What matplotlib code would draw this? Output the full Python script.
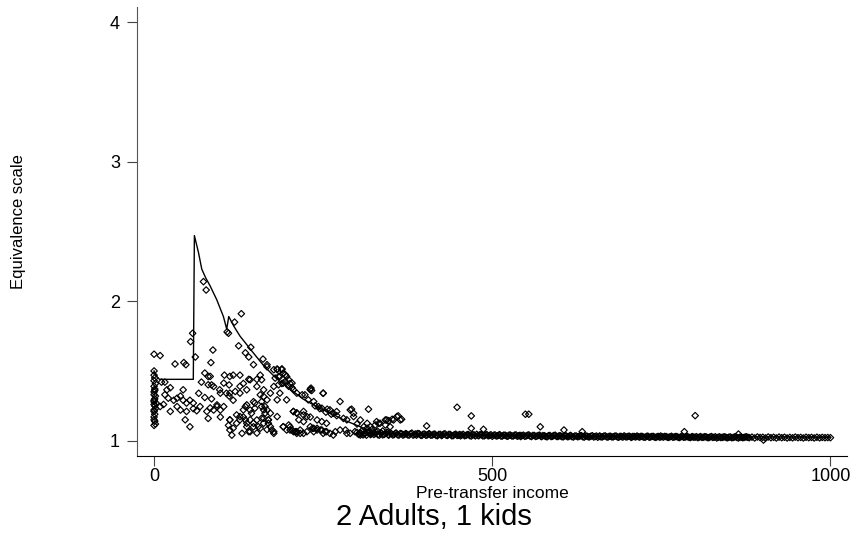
import numpy as np
import matplotlib
matplotlib.use('Agg')
import matplotlib.pyplot as plt

plt.rcParams['font.family'] = ['Liberation Sans', 'DejaVu Sans']

# households with near-zero pre-transfer income
zero_x = [0, 0, 1, 0, 2, 0, 1, 0, 0, 2, 1, 0, 0, 1, 2, 0, 1, 0, 0, 1, 2, 0, 1, 0, 3, 0]
zero_y = [1.50, 1.47, 1.45, 1.43, 1.41, 1.39, 1.37, 1.35, 1.33, 1.32, 1.30, 1.28, 1.26,
          1.25, 1.23, 1.21, 1.19, 1.17, 1.15, 1.14, 1.12, 1.11, 1.36, 1.29, 1.27, 1.22]

# low incomes (0 - 170)
low_x = [54, 57, 61, 0, 9, 87, 31, 44, 47, 84, 75, 80, 70, 104, 117, 127, 140, 111, 85, 97,
         43, 66, 75, 85, 107, 111, 117, 127, 132, 152, 157, 147, 11, 16, 19, 24, 16, 21, 29, 34,
         39, 43, 48, 53, 58, 9, 14, 24, 34, 39, 48, 58, 63, 68, 78, 83, 88, 93, 98, 103,
         46, 53, 80, 98, 112, 110, 117, 115, 122, 127, 132, 137, 142, 140, 147, 152, 157, 162, 167, 169,
         164, 159, 149, 142, 135]
low_y = [1.71, 1.77, 1.60, 1.62, 1.61, 1.65, 1.55, 1.56, 1.545, 1.56, 1.485, 1.46, 1.42, 1.47, 1.47, 1.47, 1.44, 1.40, 1.40, 1.365,
         1.365, 1.34, 1.31, 1.30, 1.34, 1.32, 1.29, 1.39, 1.41, 1.44, 1.47, 1.28, 1.42, 1.42, 1.365, 1.38, 1.33, 1.305, 1.29, 1.305,
         1.32, 1.29, 1.27, 1.29, 1.27, 1.245, 1.26, 1.21, 1.245, 1.22, 1.21, 1.23, 1.215, 1.245, 1.21, 1.235, 1.22, 1.245, 1.22, 1.245,
         1.15, 1.10, 1.16, 1.17, 1.15, 1.11, 1.09, 1.04, 1.185, 1.15, 1.17, 1.125, 1.15, 1.065, 1.10, 1.055, 1.09, 1.125, 1.08, 1.15,
         1.245, 1.28, 1.27, 1.22, 1.245]

# points near the peak of the curve
peak_x = [73, 77, 129, 119, 108, 110, 125, 143, 135, 140, 147, 161, 167, 182, 189, 191, 184, 196, 201, 199,
          204, 194, 189, 231, 250]
peak_y = [2.14, 2.08, 1.91, 1.85, 1.78, 1.77, 1.68, 1.67, 1.63, 1.60, 1.545, 1.585, 1.53, 1.51, 1.515, 1.485, 1.46, 1.46, 1.41, 1.39,
          1.38, 1.425, 1.41, 1.365, 1.34]

# middle incomes (100 - 260)
mid_x = [206, 211, 214, 221, 216, 226, 234, 241, 248, 255, 221, 231, 241, 248, 255, 201, 191, 196, 206, 211,
         112, 122, 127, 132, 135, 137, 142, 147, 152, 154, 159, 164, 169, 172, 177, 182, 112, 130, 144, 137,
         149, 162, 182, 172, 162, 152, 142, 112, 103, 88, 83, 80, 93, 98, 112, 120, 127, 137, 157, 167,
         177, 186, 196]
mid_y = [1.21, 1.20, 1.15, 1.137, 1.077, 1.065, 1.089, 1.089, 1.077, 1.065, 1.21, 1.17, 1.149, 1.137, 1.125, 1.10, 1.10, 1.077, 1.065, 1.053,
         1.149, 1.125, 1.173, 1.221, 1.149, 1.101, 1.065, 1.125, 1.149, 1.101, 1.161, 1.197, 1.149, 1.101, 1.065, 1.173, 1.077, 1.053, 1.197, 1.257,
         1.233, 1.221, 1.293, 1.341, 1.365, 1.389, 1.437, 1.461, 1.413, 1.389, 1.461, 1.401, 1.257, 1.341, 1.341, 1.353, 1.341, 1.365, 1.329, 1.293,
         1.389, 1.341, 1.293]

# upper tail (160 - 370)
tail_x = [167, 177, 182, 189, 179, 186, 194, 199, 204, 191, 184, 206, 211, 219, 223, 231, 233, 228, 236, 243,
          248, 256, 260, 265, 270, 275, 250, 290, 295, 305, 315, 317, 329, 344, 352, 359, 364,
          159, 162, 159, 167, 172, 162, 169, 174, 177, 191, 199, 204, 209, 216, 206, 211, 221, 226, 231, 236,
          241, 246, 253, 260, 268, 275, 283, 290, 297, 305, 312, 320, 327, 334, 342, 349]
tail_y = [1.545, 1.509, 1.514, 1.509, 1.449, 1.461, 1.473, 1.437, 1.413, 1.413, 1.401, 1.365, 1.341, 1.329, 1.329, 1.370, 1.360, 1.293, 1.281, 1.245,
          1.233, 1.226, 1.221, 1.197, 1.209, 1.281, 1.341, 1.221, 1.173, 1.149, 1.125, 1.226, 1.137, 1.149, 1.154, 1.173, 1.149,
          1.437, 1.317, 1.245, 1.221, 1.197, 1.161, 1.125, 1.077, 1.053, 1.101, 1.113, 1.077, 1.065, 1.053, 1.209, 1.197, 1.185, 1.173, 1.101, 1.089,
          1.077, 1.077, 1.065, 1.053, 1.065, 1.077, 1.077, 1.053, 1.065, 1.053, 1.053, 1.10, 1.113, 1.125, 1.113, 1.10]

# scattered outliers and points along the curve
other_x = [448, 469, 403, 469, 487, 549, 554, 571, 606, 361, 366, 354, 347, 342, 332, 232, 292, 295, 800, 633,
           784, 864, 901, 270, 280, 285, 300, 310, 315, 322, 330, 338, 345, 262, 254, 245, 238, 201, 211, 221,
           236, 250, 265, 285, 305, 320]
other_y = [1.24, 1.178, 1.106, 1.089, 1.082, 1.19, 1.19, 1.10, 1.077, 1.178, 1.154, 1.149, 1.144, 1.149, 1.125, 1.377, 1.226, 1.197, 1.18, 1.065,
           1.065, 1.048, 1.005, 1.18, 1.16, 1.15, 1.12, 1.10, 1.09, 1.08, 1.07, 1.07, 1.06, 1.19, 1.205, 1.23, 1.25, 1.077, 1.065, 1.053,
           1.065, 1.053, 1.041, 1.053, 1.041, 1.053]

# dense band at high incomes
band_x = [300, 303, 307, 311, 314, 318, 322, 325, 329, 333,
          336, 340, 344, 347, 351, 355, 358, 362, 366, 370,
          373, 377, 381, 385, 388, 392, 396, 400, 404, 407,
          411, 415, 419, 423, 426, 430, 434, 438, 442, 446,
          450, 453, 457, 461, 465, 469, 473, 477, 480, 484,
          488, 492, 496, 500, 504, 508, 511, 515, 519, 523,
          527, 531, 535, 539, 542, 546, 550, 554, 558, 562,
          566, 570, 573, 577, 581, 585, 589, 593, 597, 601,
          605, 609, 613, 616, 620, 624, 628, 632, 636, 640,
          644, 648, 652, 656, 659, 663, 667, 671, 675, 679,
          683, 687, 691, 695, 699, 703, 706, 710, 714, 718,
          722, 726, 730, 734, 738, 742, 746, 749, 753, 757,
          761, 765, 769, 773, 777, 781, 785, 789, 793, 796,
          800, 804, 808, 812, 816, 820, 824, 828, 832, 836,
          840, 844, 848, 852, 856, 860, 864, 868, 872, 876,
          880, 884, 888, 892, 896, 900, 904, 908, 912, 916,
          920, 924, 928, 932, 936, 940, 944, 948, 952, 956,
          960, 964, 968, 972, 976, 980, 984, 988, 992, 996, 1000]
band_y = [1.06, 1.045, 1.07, 1.05, 1.04, 1.065, 1.05, 1.045, 1.06, 1.04,
          1.055, 1.045, 1.06, 1.04, 1.05, 1.045, 1.055, 1.04, 1.05, 1.045,
          1.05, 1.04, 1.055, 1.045, 1.04, 1.05, 1.038, 1.048, 1.042, 1.05,
          1.04, 1.048, 1.036, 1.046, 1.04, 1.05, 1.038, 1.045, 1.036, 1.047,
          1.04, 1.035, 1.046, 1.038, 1.044, 1.034, 1.042, 1.046, 1.036, 1.043,
          1.035, 1.044, 1.038, 1.032, 1.042, 1.036, 1.044, 1.034, 1.04, 1.032,
          1.04, 1.034, 1.042, 1.036, 1.03, 1.04, 1.034, 1.042, 1.03, 1.038,
          1.033, 1.04, 1.03, 1.036, 1.028, 1.038, 1.032, 1.04, 1.03, 1.035,
          1.028, 1.036, 1.03, 1.038, 1.027, 1.034, 1.03, 1.036, 1.026, 1.033,
          1.028, 1.036, 1.03, 1.025, 1.034, 1.028, 1.035, 1.026, 1.032, 1.028,
          1.034, 1.025, 1.03, 1.035, 1.027, 1.032, 1.024, 1.03, 1.034, 1.026,
          1.03, 1.025, 1.033, 1.027, 1.031, 1.024, 1.03, 1.034, 1.026, 1.03,
          1.024, 1.032, 1.027, 1.03, 1.023, 1.031, 1.026, 1.029, 1.023, 1.03,
          1.026, 1.022, 1.03, 1.025, 1.028, 1.022, 1.03, 1.025, 1.02, 1.028,
          1.024, 1.028, 1.021, 1.027, 1.023, 1.029, 1.02, 1.026, 1.023, 1.028,
          1.022, 1.026, 1.02, 1.027, 1.023, 1.025, 1.02, 1.027, 1.022, 1.025,
          1.02, 1.026, 1.022, 1.025, 1.02, 1.024, 1.021, 1.026, 1.022, 1.024,
          1.02, 1.025, 1.022, 1.024, 1.02, 1.025, 1.021, 1.024, 1.022, 1.023, 1.022]

# second layer of the band (it is drawn solid black in the original)
band2_x = [302, 305, 309, 312, 316, 320, 324, 327, 331, 335,
           338, 342, 346, 349, 353, 357, 360, 364, 368, 372,
           375, 379, 383, 387, 390, 394, 398, 402, 406, 409,
           413, 417, 421, 425, 428, 432, 436, 440, 444, 448,
           452, 455, 459, 463, 467, 471, 475, 479, 482, 486,
           490, 494, 498, 502, 506, 510, 513, 517, 521, 525,
           529, 533, 537, 541, 544, 548, 552, 556, 560, 564,
           568, 572, 575, 579, 583, 587, 591, 595, 599, 603,
           607, 611, 615, 618, 622, 626, 630, 634, 638, 642,
           646, 650, 654, 658, 661, 665, 669, 673, 677, 681,
           685, 689, 693, 697, 701, 705, 708, 712, 716, 720,
           724, 728, 732, 736, 740, 744, 748, 751, 755, 759,
           763, 767, 771, 775, 779, 783, 787, 791, 795, 798,
           802, 806, 810, 814, 818, 822, 826, 830, 834, 838,
           842, 846, 850, 854, 858, 862, 866, 870, 874, 878]
band2_y = [1.048, 1.058, 1.042, 1.055, 1.062, 1.044, 1.058, 1.052, 1.043, 1.056,
           1.042, 1.052, 1.044, 1.056, 1.041, 1.053, 1.043, 1.052, 1.04, 1.051,
           1.042, 1.05, 1.04, 1.049, 1.052, 1.04, 1.047, 1.039, 1.049, 1.04,
           1.046, 1.038, 1.045, 1.037, 1.047, 1.039, 1.046, 1.036, 1.044, 1.038,
           1.045, 1.041, 1.036, 1.044, 1.036, 1.043, 1.035, 1.038, 1.044, 1.035,
           1.041, 1.035, 1.043, 1.039, 1.034, 1.041, 1.033, 1.04, 1.034, 1.041,
           1.034, 1.04, 1.032, 1.039, 1.037, 1.032, 1.039, 1.033, 1.038, 1.031,
           1.038, 1.031, 1.037, 1.031, 1.036, 1.03, 1.037, 1.031, 1.036, 1.029,
           1.035, 1.029, 1.036, 1.029, 1.034, 1.029, 1.035, 1.028, 1.034, 1.028,
           1.033, 1.027, 1.034, 1.031, 1.027, 1.033, 1.028, 1.032, 1.027, 1.033,
           1.027, 1.032, 1.026, 1.029, 1.032, 1.026, 1.031, 1.027, 1.029, 1.032,
           1.026, 1.031, 1.025, 1.031, 1.026, 1.03, 1.025, 1.029, 1.031, 1.025,
           1.029, 1.025, 1.03, 1.024, 1.029, 1.025, 1.03, 1.024, 1.028, 1.025,
           1.029, 1.026, 1.024, 1.029, 1.023, 1.027, 1.024, 1.028, 1.025, 1.023,
           1.027, 1.023, 1.026, 1.022, 1.027, 1.023, 1.025, 1.022, 1.027, 1.024]

# fitted scale (line)
line_x = [0, 4, 8, 58, 59.6, 65.6, 70.5, 76, 82.8, 92.7, 102.5, 107.4, 110.4, 118, 127, 145,
          161.7, 180, 201, 220, 240, 260, 280, 305, 324, 360, 450, 600, 800, 1000]
line_y = [1.50, 1.46, 1.44, 1.44, 2.47, 2.35, 2.23, 2.17, 2.11, 2.01, 1.89, 1.80, 1.89, 1.82, 1.75, 1.64,
          1.54, 1.45, 1.37, 1.30, 1.245, 1.20, 1.15, 1.10, 1.065, 1.05, 1.045, 1.035, 1.03, 1.025]

xs = np.concatenate([zero_x, low_x, peak_x, mid_x, tail_x, other_x, band_x, band2_x])
ys = np.concatenate([zero_y, low_y, peak_y, mid_y, tail_y, other_y, band_y, band2_y])

fig = plt.figure(figsize=(8.57, 5.35), dpi=100)
ax = fig.add_axes([0.1595, 0.148, 0.829, 0.839])

# hollow (transparent) diamonds, like Stata's Dh symbol
ax.scatter(xs, ys, marker='D', s=11, facecolors='none', edgecolors='black',
           linewidths=0.85, zorder=2)
ax.plot(line_x, line_y, color='black', lw=1, zorder=3)

ax.set_xlim(-25.7, 1024.7)
ax.set_ylim(0.892, 4.108)
ax.set_xticks([0, 500, 1000])
ax.set_yticks([1, 2, 3, 4])
ax.set_xticklabels(['0', '500', '1000'])
ax.set_yticklabels(['1', '2', '3', '4'])

ax.spines['top'].set_visible(False)
ax.spines['right'].set_visible(False)
ax.spines['left'].set_color('#555555')
ax.spines['bottom'].set_color('black')
ax.tick_params(axis='both', length=7, width=0.8, color='#444444', labelsize=13)
ax.tick_params(axis='x', pad=2)
ax.tick_params(axis='y', pad=5)

fig.text(492 / 857, 1 - 494 / 535, 'Pre-transfer income', ha='center', va='center', fontsize=12.5)
fig.text(19 / 857, 1 - 222 / 535, 'Equivalence scale', ha='center', va='center',
         rotation=90, fontsize=12)
fig.text(434 / 857, 1 - 517 / 535, '2 Adults, 1 kids', ha='center', va='center', fontsize=21)

fig.savefig('out.png', dpi=100)
